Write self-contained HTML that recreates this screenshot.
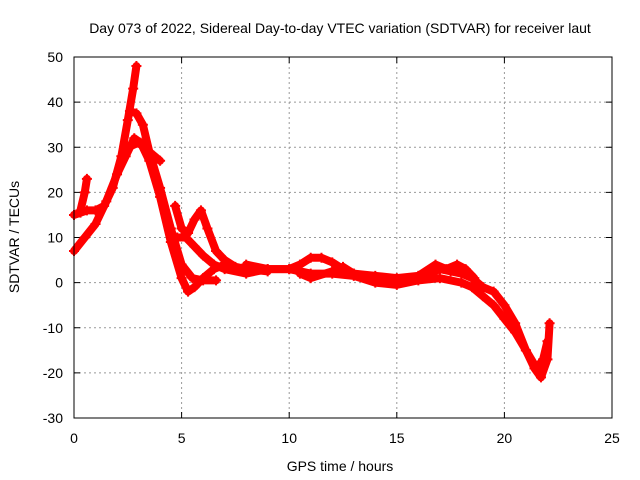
<!DOCTYPE html>
<html><head><meta charset="utf-8"><style>
body{margin:0;background:#fff;}
svg{display:block;font-family:"Liberation Sans",sans-serif;}
</style></head><body>
<svg id="c" width="640" height="480">
<text x="340" y="33" font-size="14" text-anchor="middle">Day 073 of 2022, Sidereal Day-to-day VTEC variation (SDTVAR) for receiver laut</text>
<text x="340" y="471" font-size="14" text-anchor="middle">GPS time / hours</text>
<text transform="translate(19,237) rotate(-90)" font-size="14" text-anchor="middle">SDTVAR / TECUs</text>
<g id="grid"></g><g id="data"></g>
<rect x="74" y="57" width="538" height="361" fill="none" stroke="#000" stroke-width="1"/>
</svg>
<script>
const xTicks=[0,5,10,15,20,25];
const yTicks=[-30,-20,-10,0,10,20,30,40,50];
const arcA=[[0,15],[0.3,15.5],[0.6,16],[1,16],[1.4,17],[1.8,21],[2.2,28],[2.5,36],[2.75,43],[2.9,48]];
const arcB=[[0,7],[0.5,10],[1,13],[1.5,18],[2,24],[2.4,28],[2.8,32],[3.1,31],[3.5,27],[4,19],[4.5,9],[5,1],[5.3,-2],[5.6,-1],[6,1],[6.5,3],[7,4]];
const arcC=[[2.6,38],[2.9,37.5],[3.2,35],[3.5,29],[4,21],[4.5,12],[5,4],[5.5,1],[6,0.5],[6.6,0.5]];
const arcD=[[2.5,30],[3,31],[3.5,29],[4,27]];
const arcE=[[4.7,17],[5,12],[5.3,11],[5.6,14],[5.9,16],[6.2,12],[6.6,7],[7,5],[7.5,3.5],[8,3],[9,2.5]];
const arcF=[[4.8,10],[5.2,10],[5.6,8],[6,6],[6.5,4],[7,3],[8,2],[9,3],[10,3],[10.5,4],[11,5.5],[11.5,5.5],[12,4.5],[12.5,3],[13,2],[14,1],[15,0.5],[16,1],[16.5,2],[17,3],[17.5,2.5],[18,2],[18.5,1],[19,-1],[19.5,-2],[20,-5],[20.5,-9],[21,-15],[21.4,-19],[21.7,-21],[22,-17],[22.1,-9]];
const arcG=[[8,4],[9,3],[10,3],[11,2],[12,2],[13,1.5],[14,0],[15,-0.5],[16,0.5],[17,1],[18,0],[18.5,-1],[19,-3],[19.5,-5],[20,-8],[20.5,-11],[21,-15],[21.5,-19],[21.8,-17],[22,-13]];
const arcH=[[10.5,2],[11,1],[12,2.5],[12.5,3.5],[13,2],[14,1.5],[15,1],[16,1.5],[16.8,4],[17.3,3],[17.8,4],[18.2,3],[18.6,1]];
const arcI=[[0.3,16],[0.5,20],[0.6,23]];
const arcs=[arcA,arcB,arcC,arcD,arcE,arcF,arcG,arcH,arcI];
const X=v=>74+v*(538/25), Y=v=>418-(v+30)*(361/80);
const ns='http://www.w3.org/2000/svg';
const g=document.getElementById('grid'), d=document.getElementById('data');
function mk(tag,at,p){const e=document.createElementNS(ns,tag);for(const k in at)e.setAttribute(k,at[k]);p.appendChild(e);return e;}
xTicks.forEach(t=>{
 if(t>0&&t<25){const l=mk('line',{x1:X(t),x2:X(t),y1:57,y2:418,stroke:'#999','stroke-dasharray':'2,3'},g);
 
 }
 mk('line',{x1:X(t),x2:X(t),y1:418,y2:412,stroke:'#000'},g);
 mk('line',{x1:X(t),x2:X(t),y1:57,y2:63,stroke:'#000'},g);
 const tx=mk('text',{x:X(t),y:443,'font-size':14,'text-anchor':'middle'},g);tx.textContent=t;
 
 
});
yTicks.forEach(t=>{
 if(t>-30&&t<50){const l=mk('line',{x1:74,x2:612,y1:Y(t),y2:Y(t),stroke:'#999','stroke-dasharray':'2,3'},g);
 
 }
 mk('line',{x1:74,x2:80,y1:Y(t),y2:Y(t),stroke:'#000'},g);
 mk('line',{x1:612,x2:606,y1:Y(t),y2:Y(t),stroke:'#000'},g);
 const tx=mk('text',{x:63,y:Y(t)+5,'font-size':14,'text-anchor':'end'},g);tx.textContent=t;
 
 
});
arcs.forEach(a=>{
 const pl=mk('polyline',{points:a.map(p=>X(p[0])+','+Y(p[1])).join(' '),fill:'none',stroke:'#f00','stroke-width':8,'stroke-linejoin':'round','stroke-linecap':'round'},d);
 
 
 a.forEach(p=>{const x=X(p[0]),y=Y(p[1]);
  mk('path',{d:`M${x-5},${y}H${x+5}M${x},${y-5}V${y+5}`,stroke:'#f00','stroke-width':2},d);});
});
</script>
</body></html>
